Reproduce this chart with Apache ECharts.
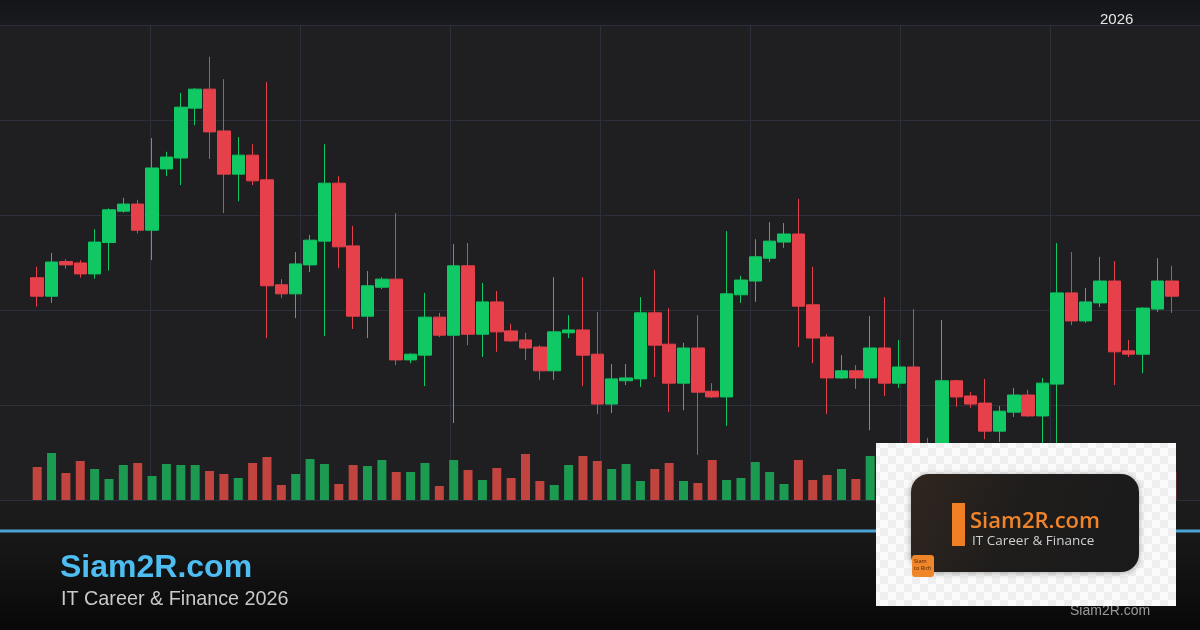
<!DOCTYPE html>
<html>
<head>
<meta charset="utf-8">
<script src="https://cdn.jsdelivr.net/npm/echarts@6/dist/echarts.min.js"></script>
<style>
html,body{margin:0;padding:0;background:#1f1f21;}
#chart{width:1200px;height:630px;}
</style>
</head>
<body>
<div id="chart"></div>
<script>
// ---- data ----
const categories = [
'2026-01-02','2026-01-05','2026-01-06','2026-01-07','2026-01-08','2026-01-09','2026-01-12','2026-01-13','2026-01-14','2026-01-15',
'2026-01-16','2026-01-19','2026-01-20','2026-01-21','2026-01-22','2026-01-23','2026-01-26','2026-01-27','2026-01-28','2026-01-29',
'2026-01-30','2026-02-02','2026-02-03','2026-02-04','2026-02-05','2026-02-06','2026-02-09','2026-02-10','2026-02-11','2026-02-12',
'2026-02-13','2026-02-16','2026-02-17','2026-02-18','2026-02-19','2026-02-20','2026-02-23','2026-02-24','2026-02-25','2026-02-26',
'2026-02-27','2026-03-02','2026-03-03','2026-03-04','2026-03-05','2026-03-06','2026-03-09','2026-03-10','2026-03-11','2026-03-12',
'2026-03-13','2026-03-16','2026-03-17','2026-03-18','2026-03-19','2026-03-20','2026-03-23','2026-03-24','2026-03-25','2026-03-26',
'2026-03-27','2026-03-30','2026-03-31','2026-04-01','2026-04-02','2026-04-03','2026-04-06','2026-04-07','2026-04-08','2026-04-09',
'2026-04-10','2026-04-13','2026-04-14','2026-04-15','2026-04-16','2026-04-17','2026-04-20','2026-04-21','2026-04-22','2026-04-23'
];
const openV = [
126.8,122.9,130.2,129.9,127.6,134.2,140.8,142.3,136.8,149.7,
152.0,162.5,166.5,157.7,148.6,152.6,147.4,125.3,123.4,129.5,
134.5,146.7,133.5,118.7,124.8,126.5,109.5,110.5,118.5,114.7,
129.3,114.9,121.7,115.6,113.7,112.2,107.2,115.2,115.8,110.7,
100.2,105.1,105.5,119.4,112.8,104.6,112.0,102.9,101.7,123.2,
126.1,130.9,134.3,136.0,121.1,114.3,105.7,107.2,105.7,112.0,
104.6,108.0,91.4,90.1,105.1,101.9,100.4,94.5,98.5,102.1,
97.7,104.4,123.6,117.7,121.5,126.1,111.4,110.7,120.2,126.1
];
const closeV = [
122.9,130.1,129.5,127.6,134.3,141.1,142.3,136.8,149.9,152.2,
162.7,166.5,157.5,148.6,152.6,147.2,125.1,123.4,129.7,134.7,
146.7,133.3,118.7,125.1,126.5,109.5,110.7,118.5,114.7,129.3,
114.9,121.7,115.4,113.5,112.0,107.2,115.4,115.8,110.5,100.2,
105.5,105.7,119.4,112.6,104.6,112.0,102.7,101.7,123.4,126.3,
131.2,134.5,136.0,120.8,114.1,105.7,107.2,105.7,112.0,104.6,
108.0,90.9,90.1,105.1,101.7,100.2,94.5,98.7,102.1,97.7,
104.6,123.6,117.7,121.7,126.1,111.2,110.7,120.4,126.1,122.9
];
const lowV = [
120.7,121.5,128.7,126.8,126.6,128.3,140.5,136.1,130.5,148.2,
146.3,158.9,151.8,140.4,142.9,146.3,114.1,122.5,118.3,128.0,
114.5,128.8,116.0,114.1,124.4,108.4,108.8,104.0,114.3,96.2,
112.6,110.1,111.2,113.3,109.5,105.3,105.3,114.1,104.0,98.1,
98.3,104.2,103.8,105.9,98.5,98.9,89.5,101.5,95.6,121.5,
121.7,130.1,133.1,112.2,108.8,98.1,105.5,103.4,94.7,101.9,
103.6,89.3,88.8,88.4,99.6,99.4,92.8,92.2,97.5,97.5,
91.4,90.9,116.8,117.3,120.6,104.2,110.1,106.7,119.6,119.4
];
const highV = [
129.1,132.0,130.7,130.5,137.0,141.4,143.6,143.2,156.2,153.3,
165.7,166.7,173.3,168.6,156.4,154.9,168.0,126.5,132.2,135.8,
154.9,148.2,137.7,128.2,126.9,140.4,110.9,123.6,119.4,133.9,
134.1,125.7,124.0,117.1,115.2,112.6,126.9,118.9,126.9,119.6,
108.6,108.6,122.7,128.4,120.4,113.1,118.9,104.6,136.6,127.2,
134.9,138.5,138.3,143.4,129.1,114.9,110.5,108.4,118.7,122.7,
113.7,120.2,93.1,117.9,105.3,102.7,105.5,99.8,103.6,103.2,
105.7,134.1,132.2,124.6,131.2,130.3,113.7,120.6,130.9,129.3
];
const volumeV = [
3.3,4.7,2.7,3.9,3.1,2.1,3.5,3.7,2.4,3.6,
3.5,3.5,2.9,2.6,2.2,3.7,4.3,1.5,2.6,4.1,
3.6,1.6,3.5,3.4,4.0,2.8,2.8,3.7,1.4,4.0,
3.0,2.0,3.2,2.2,4.6,1.9,1.5,3.5,4.4,3.9,
3.1,3.6,1.9,3.1,3.7,1.9,1.7,4.0,2.0,2.2,
3.8,2.8,1.6,4.0,2.0,2.5,3.1,2.1,4.4,3.0,
2.2,4.2,2.6,3.8,2.4,2.0,2.8,1.8,2.5,3.3,
4.5,3.0,2.2,2.7,3.6,1.7,2.9,3.3,2.8,2.8
];
const priceTicks = {min: 80, max: 180, interval: 20};
const titleText = 'Siam2R.com';
const subtitleText = 'IT Career & Finance 2026';
const yearText = '2026';

// ---- styles ----
const UP = '#10c864', DOWN = '#e6404b';
const VOL_UP = '#1d9a52', VOL_DOWN = '#c2443f';
const GRIDLINE = '#2c303b';

const candleData = categories.map((c, i) => [openV[i], closeV[i], lowV[i], highV[i]]);
const volData = categories.map((c, i) => ({
  value: volumeV[i],
  itemStyle: {color: closeV[i] >= openV[i] ? VOL_UP : VOL_DOWN}
}));

// checker pattern for logo backdrop
const pc = document.createElement('canvas');
pc.width = 16; pc.height = 16;
const pctx = pc.getContext('2d');
pctx.fillStyle = '#fbfbfb'; pctx.fillRect(0,0,16,16);
pctx.fillStyle = '#efefef'; pctx.fillRect(0,0,8,8); pctx.fillRect(8,8,8,8);

const chart = echarts.init(document.getElementById('chart'), null, {renderer: 'canvas'});
const hidden = {axisLine:{show:false}, axisTick:{show:false}, axisLabel:{show:false}};
chart.setOption({
  animation: false,
  backgroundColor: '#1f1f21',
  grid: [
    {left: 0, right: 0, top: 25, bottom: 130},
    {left: 30, right: 21, top: 25, bottom: 130}
  ],
  xAxis: [
    Object.assign({gridIndex: 0, type: 'value', min: 0, max: 1200, interval: 150,
      splitLine: {show: true, showMinLine: false, showMaxLine: false, lineStyle: {color: GRIDLINE, width: 1}}}, hidden),
    Object.assign({gridIndex: 1, type: 'category', data: categories, boundaryGap: true,
      splitLine: {show: false}}, hidden)
  ],
  yAxis: [
    Object.assign({gridIndex: 0, type: 'value', min: 0, max: 5, interval: 1,
      splitLine: {show: true, lineStyle: {color: GRIDLINE, width: 1}}}, hidden),
    Object.assign({gridIndex: 1, type: 'value', min: priceTicks.min, max: priceTicks.max,
      interval: priceTicks.interval, splitLine: {show: false}}, hidden),
    Object.assign({gridIndex: 1, type: 'value', min: 0, max: 47.5,
      splitLine: {show: false}}, hidden)
  ],
  series: [
    {
      type: 'bar', xAxisIndex: 1, yAxisIndex: 2, data: volData,
      barWidth: 9, z: 1
    },
    {
      type: 'candlestick', xAxisIndex: 1, yAxisIndex: 1, data: candleData,
      barWidth: 13, z: 3,
      itemStyle: {color: UP, color0: DOWN, borderColor: UP, borderColor0: DOWN, borderWidth: 1}
    }
  ],
  graphic: [
    {type: 'rect', z: -10, silent: true, shape: {x: 0, y: 0, width: 1200, height: 25},
     style: {fill: new echarts.graphic.LinearGradient(0,0,0,1,[{offset:0,color:'#141518'},{offset:1,color:'#1a1b1e'}])}},
    {type: 'rect', z: -10, silent: true, shape: {x: 0, y: 500, width: 1200, height: 130},
     style: {fill: new echarts.graphic.LinearGradient(0,0,0,1,[{offset:0,color:'#1c1c1c'},{offset:0.25,color:'#191919'},{offset:1,color:'#080808'}])}},
    {type: 'rect', z: 5, silent: true, shape: {x: 0, y: 529.5, width: 1200, height: 3},
     style: {fill: '#4aa5d6'}},
    {type: 'text', z: 5, silent: true, x: 60, y: 568,
     style: {text: titleText, fill: '#4dbdf2', font: 'bold 32px "Liberation Sans", Arial, sans-serif', verticalAlign: 'middle', align: 'left'}},
    {type: 'text', z: 5, silent: true, x: 61, y: 600,
     style: {text: subtitleText, fill: '#c9c9c9', font: '19.8px "Liberation Sans", Arial, sans-serif', verticalAlign: 'middle', align: 'left'}},
    {type: 'text', z: 5, silent: true, x: 1100, y: 20,
     style: {text: yearText, fill: '#e6e6e6', font: '15px "Liberation Sans", Arial, sans-serif', verticalAlign: 'middle', align: 'left'}},
    {type: 'text', z: 5, silent: true, x: 1070, y: 611,
     style: {text: titleText, fill: '#9a9a9a', font: '14px "Liberation Sans", Arial, sans-serif', verticalAlign: 'middle', align: 'left'}},
    // logo card
    {type: 'group', z: 50, silent: true, children: [
      {type: 'rect', z: 50, shape: {x: 876, y: 443, width: 300, height: 163},
       style: {fill: {image: pc, repeat: 'repeat'}}},
      {type: 'rect', z: 51, shape: {x: 911, y: 474, width: 228, height: 98, r: 18},
       style: {fill: new echarts.graphic.LinearGradient(0,0,1,1,[{offset:0,color:'#30261f'},{offset:0.45,color:'#1f1d1c'},{offset:1,color:'#1a1a1a'}]),
               shadowBlur: 6, shadowColor: 'rgba(0,0,0,0.35)', shadowOffsetY: 1}},
      {type: 'rect', z: 52, shape: {x: 952, y: 503, width: 13, height: 43},
       style: {fill: '#ef7f22'}},
      {type: 'text', z: 52, x: 970, y: 522,
       style: {text: titleText, fill: '#f0842a', font: '600 22px "Open Sans", sans-serif', verticalAlign: 'middle', align: 'left'}},
      {type: 'text', z: 52, x: 972, y: 541,
       style: {text: 'IT Career & Finance', fill: '#d0d0d0', font: '13.5px "Open Sans", sans-serif', verticalAlign: 'middle', align: 'left'}},
      {type: 'rect', z: 52, shape: {x: 912, y: 555, width: 22, height: 22, r: 3},
       style: {fill: '#f0862a'}},
      {type: 'text', z: 53, x: 914, y: 561,
       style: {text: 'Siam', fill: '#4a1f00', font: '5.5px "Open Sans", sans-serif', verticalAlign: 'middle', align: 'left'}},
      {type: 'text', z: 53, x: 914, y: 568,
       style: {text: 'to Rich', fill: '#4a1f00', font: '5.5px "Open Sans", sans-serif', verticalAlign: 'middle', align: 'left'}}
    ]}
  ]
});
</script>
</body>
</html>
